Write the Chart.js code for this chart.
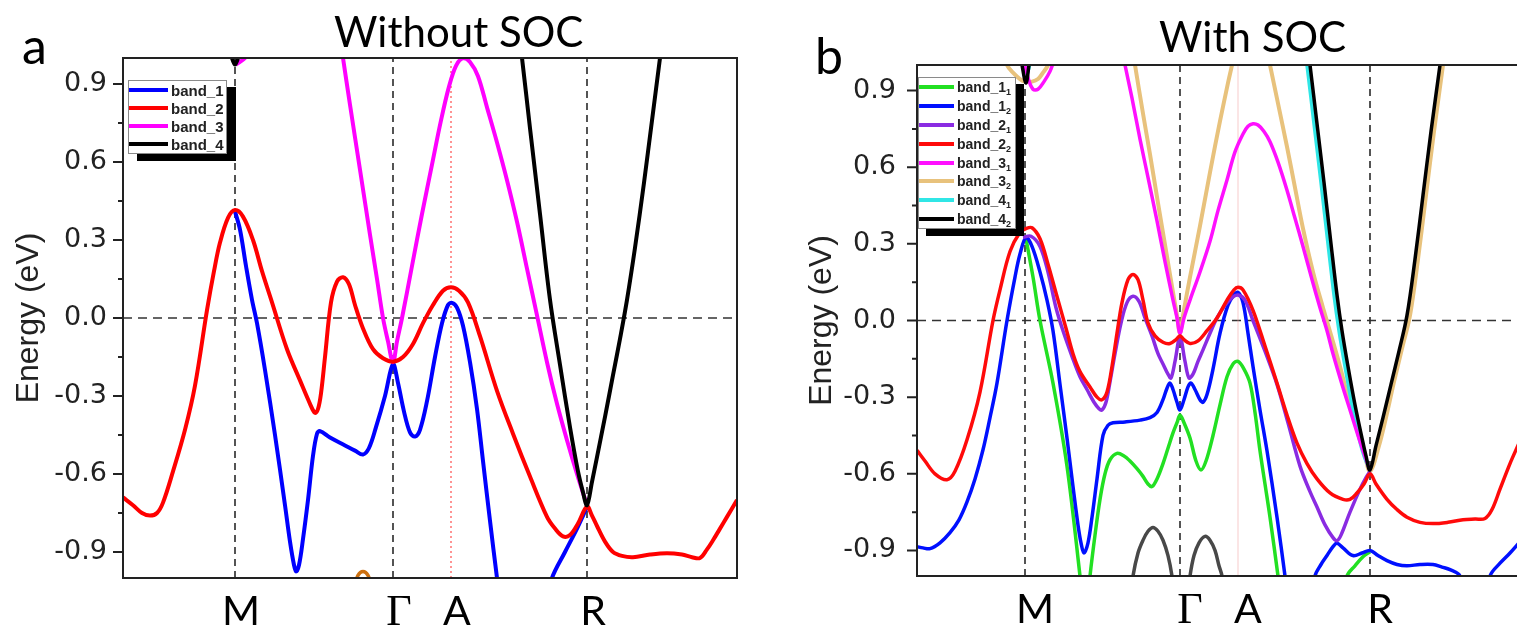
<!DOCTYPE html>
<html><head><meta charset="utf-8">
<script src="https://cdn.jsdelivr.net/npm/chart.js@4"></script>
<style>
html,body{margin:0;padding:0;background:#fff;width:1517px;height:630px;overflow:hidden;position:relative}
canvas{position:absolute;top:0}
#ca{left:0}
#cb{left:760px}
.txt{position:absolute;font-family:Lato,'Open Sans',sans-serif;color:#000;white-space:nowrap;line-height:1}
.legend{position:absolute;background:#fff;border:1px solid #8a8a8a;box-sizing:border-box;color:#222;font-family:'Liberation Sans',Arial,sans-serif;font-weight:bold}
.legend .row{display:flex;align-items:center;white-space:nowrap}
.legend .sw{display:inline-block;height:4px;flex:none}
.legend sub{font-size:9px;vertical-align:-3px;line-height:0}
</style></head><body>
<canvas id="ca" width="760" height="630"></canvas>
<canvas id="cb" width="780" height="630"></canvas>
<div class="txt" style="left:22px;top:20px;font-size:50px">a</div>
<div class="txt" style="left:815px;top:30px;font-size:50px">b</div>
<div class="txt" style="left:334px;top:10px;font-size:42px">Without SOC</div>
<div class="txt" style="left:1159px;top:15px;font-size:42px">With SOC</div>
<div class="legend" id="lega" style="left:128px;top:80px;width:99px;height:74px;box-shadow:9px 7px 0 0 #000;font-size:15px"></div>
<div class="legend" id="legb" style="left:918px;top:77px;width:98px;height:152px;box-shadow:8px 7px 0 0 #000;font-size:14px"></div>
<script>
// ---------- axis / label data ----------
const symLabels = ['M', 'Γ', 'A', 'R'];
const symA = [1.12, 2.70, 3.28, 4.64];
const symB = [1.08, 2.63, 3.21, 4.53];
const kMaxA = 6.14;
const kMaxB = 6.02;
const eMin = -1.0, eMax = 1.0;
const yMajor = [-0.9, -0.6, -0.3, 0.0, 0.3, 0.6, 0.9];
const yMinor = [-0.75, -0.45, -0.15, 0.15, 0.45, 0.75];

// ---------- panel a : without SOC  ([k, E(eV)]) ----------
const a_band1 = [[1.12,0.41],[1.17,0.34],[1.23,0.20],[1.29,0.07],[1.34,-0.02],[1.42,-0.20],[1.52,-0.45],[1.62,-0.72],[1.67,-0.86],[1.71,-0.95],[1.73,-0.975],[1.76,-0.95],[1.80,-0.85],[1.85,-0.70],[1.90,-0.53],[1.94,-0.445],[1.97,-0.435],[2.07,-0.46],[2.22,-0.49],[2.32,-0.51],[2.40,-0.525],[2.46,-0.50],[2.53,-0.42],[2.62,-0.30],[2.70,-0.178],[2.75,-0.25],[2.81,-0.36],[2.87,-0.44],[2.92,-0.456],[2.97,-0.43],[3.04,-0.32],[3.12,-0.15],[3.19,-0.02],[3.25,0.05],[3.29,0.058],[3.34,0.04],[3.40,-0.03],[3.47,-0.17],[3.54,-0.35],[3.60,-0.55],[3.67,-0.78],[3.74,-1.00],[3.78,-1.12],[3.95,null],[4.22,-1.12],[4.29,-1.00],[4.42,-0.90],[4.54,-0.81],[4.64,-0.727]];
const a_band2 = [[0.00,-0.69],[0.10,-0.72],[0.19,-0.75],[0.27,-0.76],[0.34,-0.75],[0.40,-0.71],[0.50,-0.59],[0.62,-0.43],[0.72,-0.26],[0.84,0.03],[0.91,0.18],[0.97,0.29],[1.05,0.385],[1.12,0.415],[1.20,0.39],[1.30,0.30],[1.39,0.18],[1.49,0.06],[1.64,-0.12],[1.77,-0.24],[1.87,-0.33],[1.92,-0.365],[1.95,-0.35],[1.98,-0.29],[2.02,-0.15],[2.08,0.06],[2.14,0.14],[2.20,0.157],[2.26,0.13],[2.32,0.05],[2.40,-0.04],[2.50,-0.12],[2.60,-0.155],[2.70,-0.168],[2.80,-0.15],[2.90,-0.10],[3.00,-0.02],[3.10,0.05],[3.20,0.105],[3.28,0.118],[3.36,0.105],[3.45,0.06],[3.57,-0.07],[3.74,-0.28],[3.90,-0.445],[4.07,-0.61],[4.24,-0.765],[4.32,-0.81],[4.40,-0.84],[4.47,-0.835],[4.55,-0.79],[4.64,-0.725],[4.69,-0.76],[4.74,-0.80],[4.82,-0.86],[4.90,-0.90],[4.99,-0.915],[5.10,-0.92],[5.27,-0.91],[5.44,-0.905],[5.59,-0.91],[5.69,-0.92],[5.77,-0.923],[5.84,-0.89],[5.90,-0.855],[5.97,-0.81],[6.04,-0.765],[6.14,-0.70]];
const a_band3 = [[1.13,0.975],[1.17,0.985],[1.22,1.00],[1.27,1.03],[1.80,null],[2.17,1.08],[2.20,1.00],[2.27,0.82],[2.37,0.57],[2.47,0.32],[2.54,0.15],[2.60,0.00],[2.65,-0.09],[2.70,-0.17],[2.74,-0.09],[2.79,0.00],[2.89,0.20],[2.99,0.40],[3.09,0.59],[3.18,0.76],[3.26,0.89],[3.33,0.97],[3.40,1.00],[3.47,0.985],[3.55,0.93],[3.64,0.81],[3.74,0.675],[3.84,0.53],[3.94,0.37],[4.04,0.19],[4.14,0.01],[4.24,-0.17],[4.34,-0.33],[4.44,-0.47],[4.54,-0.60],[4.64,-0.72]];
const a_band4 = [[1.06,1.05],[1.09,1.00],[1.12,0.975],[1.15,1.00],[1.18,1.05],[3.00,null],[3.95,1.12],[3.99,1.00],[4.07,0.73],[4.17,0.40],[4.27,0.07],[4.37,-0.18],[4.47,-0.42],[4.55,-0.59],[4.60,-0.67],[4.64,-0.72],[4.69,-0.63],[4.74,-0.535],[4.82,-0.38],[4.90,-0.22],[4.97,-0.08],[5.04,0.07],[5.12,0.27],[5.21,0.52],[5.29,0.76],[5.37,1.00],[5.41,1.12]];
const a_band0 = [[2.31,-1.04],[2.35,-0.99],[2.40,-0.975],[2.45,-0.99],[2.49,-1.04]];

// ---------- panel b : with SOC ----------
const b_band1_1 = [[1.09,0.32],[1.16,0.17],[1.23,0.00],[1.36,-0.245],[1.50,-0.57],[1.63,-1.00],[1.66,-1.12],[1.685,null],[1.70,-1.12],[1.73,-1.00],[1.78,-0.84],[1.83,-0.70],[1.88,-0.60],[1.93,-0.545],[2.00,-0.52],[2.07,-0.53],[2.13,-0.55],[2.20,-0.58],[2.26,-0.61],[2.31,-0.64],[2.35,-0.65],[2.40,-0.62],[2.46,-0.56],[2.51,-0.50],[2.56,-0.44],[2.60,-0.40],[2.63,-0.37],[2.67,-0.40],[2.73,-0.46],[2.79,-0.55],[2.84,-0.585],[2.89,-0.55],[2.96,-0.45],[3.03,-0.33],[3.10,-0.22],[3.16,-0.17],[3.21,-0.16],[3.27,-0.19],[3.33,-0.245],[3.38,-0.36],[3.43,-0.51],[3.48,-0.64],[3.53,-0.77],[3.61,-1.00],[3.65,-1.12],[4.00,null],[4.25,-1.12],[4.30,-1.00],[4.38,-0.96],[4.46,-0.925],[4.53,-0.905]];
const b_band1_2 = [[0.00,-0.885],[0.06,-0.89],[0.13,-0.893],[0.23,-0.87],[0.33,-0.83],[0.42,-0.78],[0.50,-0.71],[0.58,-0.62],[0.66,-0.506],[0.73,-0.38],[0.80,-0.245],[0.90,0.00],[0.98,0.17],[1.03,0.26],[1.09,0.325],[1.15,0.29],[1.23,0.19],[1.30,0.08],[1.36,-0.04],[1.43,-0.25],[1.50,-0.46],[1.56,-0.65],[1.61,-0.80],[1.64,-0.87],[1.67,-0.91],[1.71,-0.87],[1.75,-0.77],[1.80,-0.62],[1.86,-0.45],[1.91,-0.41],[1.96,-0.40],[2.08,-0.397],[2.23,-0.39],[2.33,-0.38],[2.40,-0.36],[2.46,-0.31],[2.50,-0.265],[2.53,-0.245],[2.56,-0.27],[2.60,-0.32],[2.63,-0.35],[2.67,-0.31],[2.71,-0.26],[2.74,-0.245],[2.78,-0.27],[2.83,-0.31],[2.86,-0.32],[2.90,-0.29],[2.96,-0.19],[3.03,-0.05],[3.11,0.06],[3.17,0.10],[3.21,0.11],[3.26,0.07],[3.31,-0.05],[3.36,-0.18],[3.43,-0.35],[3.50,-0.51],[3.60,-0.77],[3.68,-1.00],[3.72,-1.12],[3.85,null],[3.94,-1.12],[3.98,-1.00],[4.04,-0.955],[4.10,-0.92],[4.16,-0.885],[4.20,-0.872],[4.26,-0.89],[4.36,-0.92],[4.45,-0.91],[4.53,-0.90],[4.61,-0.92],[4.70,-0.94],[4.80,-0.955],[4.90,-0.96],[5.03,-0.955],[5.16,-0.955],[5.25,-0.965],[5.33,-0.975],[5.43,-1.00],[5.47,-1.12],[5.60,null],[5.69,-1.12],[5.73,-1.00],[5.83,-0.95],[5.93,-0.91],[6.02,-0.87]];
const b_band2_1 = [[1.06,0.325],[1.14,0.33],[1.23,0.29],[1.31,0.19],[1.39,0.05],[1.46,-0.04],[1.55,-0.14],[1.63,-0.22],[1.70,-0.27],[1.77,-0.32],[1.82,-0.345],[1.85,-0.35],[1.89,-0.32],[1.93,-0.24],[1.98,-0.13],[2.04,-0.01],[2.10,0.07],[2.16,0.095],[2.22,0.075],[2.28,0.01],[2.35,-0.06],[2.41,-0.13],[2.46,-0.17],[2.51,-0.21],[2.54,-0.225],[2.58,-0.16],[2.63,-0.065],[2.68,-0.16],[2.72,-0.225],[2.76,-0.21],[2.81,-0.16],[2.86,-0.115],[2.93,-0.05],[3.00,0.01],[3.08,0.06],[3.15,0.09],[3.21,0.10],[3.28,0.08],[3.36,0.00],[3.48,-0.12],[3.60,-0.25],[3.71,-0.40],[3.83,-0.57],[3.93,-0.67],[4.00,-0.73],[4.08,-0.80],[4.16,-0.85],[4.20,-0.862],[4.24,-0.84],[4.33,-0.75],[4.43,-0.66],[4.49,-0.615],[4.53,-0.59]];
const b_band2_2 = [[0.00,-0.508],[0.08,-0.55],[0.18,-0.60],[0.30,-0.623],[0.38,-0.59],[0.50,-0.467],[0.63,-0.28],[0.76,0.00],[0.83,0.12],[0.93,0.27],[1.03,0.345],[1.09,0.36],[1.15,0.363],[1.23,0.32],[1.31,0.22],[1.41,0.08],[1.49,-0.03],[1.56,-0.13],[1.63,-0.20],[1.73,-0.26],[1.80,-0.30],[1.85,-0.31],[1.90,-0.28],[1.95,-0.18],[2.00,-0.05],[2.05,0.07],[2.11,0.16],[2.16,0.18],[2.21,0.16],[2.26,0.08],[2.31,-0.01],[2.38,-0.06],[2.46,-0.085],[2.53,-0.09],[2.59,-0.075],[2.63,-0.06],[2.67,-0.075],[2.73,-0.09],[2.81,-0.08],[2.90,-0.04],[3.00,0.01],[3.10,0.08],[3.17,0.12],[3.21,0.13],[3.26,0.12],[3.36,0.04],[3.48,-0.10],[3.60,-0.245],[3.70,-0.37],[3.80,-0.48],[3.90,-0.56],[4.00,-0.62],[4.13,-0.675],[4.26,-0.70],[4.33,-0.70],[4.40,-0.675],[4.47,-0.64],[4.53,-0.60],[4.59,-0.64],[4.70,-0.70],[4.80,-0.74],[4.90,-0.77],[5.03,-0.79],[5.16,-0.795],[5.31,-0.79],[5.46,-0.78],[5.58,-0.777],[5.68,-0.775],[5.75,-0.74],[5.83,-0.66],[5.93,-0.56],[6.02,-0.48]];
const b_band3_1 = [[1.07,1.03],[1.11,0.95],[1.16,0.905],[1.21,0.905],[1.27,0.935],[1.33,0.975],[1.38,1.03],[1.80,null],[2.05,1.06],[2.08,1.00],[2.15,0.87],[2.23,0.71],[2.31,0.56],[2.40,0.39],[2.48,0.23],[2.56,0.08],[2.60,0.01],[2.63,-0.05],[2.67,0.01],[2.73,0.08],[2.83,0.19],[2.93,0.31],[3.01,0.43],[3.10,0.55],[3.18,0.66],[3.26,0.73],[3.31,0.76],[3.36,0.77],[3.41,0.765],[3.47,0.74],[3.53,0.70],[3.61,0.62],[3.70,0.51],[3.78,0.40],[3.86,0.29],[3.95,0.16],[4.03,0.05],[4.10,-0.04],[4.16,-0.13],[4.25,-0.25],[4.33,-0.35],[4.41,-0.45],[4.47,-0.52],[4.53,-0.59]];
const b_band3_2 = [[0.86,1.06],[0.90,1.00],[0.96,0.97],[1.03,0.945],[1.08,0.935],[1.15,0.935],[1.21,0.945],[1.26,0.97],[1.31,1.00],[1.35,1.06],[1.80,null],[2.15,1.08],[2.18,1.00],[2.26,0.81],[2.33,0.65],[2.41,0.46],[2.50,0.25],[2.56,0.11],[2.60,0.02],[2.63,-0.05],[2.66,0.02],[2.73,0.17],[2.83,0.37],[2.93,0.58],[3.03,0.78],[3.11,0.93],[3.15,1.00],[3.19,1.08],[3.30,null],[3.49,1.08],[3.53,1.00],[3.61,0.85],[3.70,0.68],[3.78,0.52],[3.86,0.36],[3.96,0.19],[4.06,0.05],[4.15,-0.07],[4.23,-0.18],[4.31,-0.30],[4.40,-0.42],[4.47,-0.51],[4.53,-0.59],[4.62,-0.49],[4.69,-0.38],[4.77,-0.24],[4.85,-0.11],[4.93,0.02],[5.01,0.24],[5.09,0.49],[5.17,0.74],[5.26,1.00],[5.30,1.12]];
const b_band4_1 = [[1.09,0.95],[1.12,0.99],[1.15,1.05],[2.00,null],[3.86,1.12],[3.90,1.00],[3.97,0.77],[4.04,0.54],[4.11,0.30],[4.17,0.10],[4.22,-0.04],[4.28,-0.18],[4.35,-0.33],[4.42,-0.46],[4.47,-0.53],[4.53,-0.585]];
const b_band4_2 = [[1.03,1.05],[1.05,1.00],[1.09,0.93],[1.12,1.00],[1.14,1.05],[2.00,null],[3.89,1.12],[3.93,1.00],[4.00,0.77],[4.07,0.54],[4.14,0.30],[4.20,0.10],[4.25,-0.04],[4.31,-0.18],[4.38,-0.33],[4.45,-0.46],[4.49,-0.53],[4.53,-0.585],[4.59,-0.49],[4.66,-0.38],[4.74,-0.25],[4.82,-0.12],[4.90,0.02],[4.98,0.24],[5.06,0.49],[5.14,0.74],[5.23,1.00],[5.27,1.12]];
const b_band0 = [[2.13,-1.10],[2.16,-1.00],[2.21,-0.91],[2.26,-0.86],[2.31,-0.825],[2.36,-0.81],[2.41,-0.825],[2.46,-0.86],[2.51,-0.92],[2.55,-1.00],[2.58,-1.10],[2.62,null],[2.70,-1.10],[2.73,-1.00],[2.77,-0.92],[2.82,-0.87],[2.88,-0.845],[2.93,-0.86],[2.98,-0.90],[3.02,-0.96],[3.05,-1.00],[3.08,-1.10]];

// ---------- helpers ----------
function toXY(arr){ return arr.map(p => ({x: p[0], y: p[1]})); }
function band(label, arr, color, width, order, inLegend){
  return {label, data: toXY(arr), borderColor: color, backgroundColor: color, borderWidth: width,
    pointRadius: 0, pointHoverRadius: 0, tension: 0.35, fill: false, order, clip: 0, inLegend};
}
function refLine(points, color, width, dash){
  return {label: '', data: points, borderColor: color, borderWidth: width, borderDash: dash,
    pointRadius: 0, tension: 0, fill: false, order: 100, inLegend: false};
}
function refLines(sym, kMax, aStyle){
  const out = [];
  sym.forEach((k, i) => {
    const pts = [{x: k, y: eMin}, {x: k, y: eMax}];
    if (symLabels[i] === 'A') out.push(refLine(pts, aStyle.color, aStyle.width, aStyle.dash));
    else out.push(refLine(pts, '#2a2a2a', 1.6, [7, 5]));
  });
  out.push(refLine([{x: 0, y: 0}, {x: kMax, y: 0}], '#333', 1.6, [9, 6]));
  return out;
}

const framePlugin = {
  id: 'frameTicks',
  afterDatasetsDraw(chart, args, o){
    const {ctx, chartArea: {left, right, top, bottom}} = chart;
    const ys = chart.scales.y;
    ctx.save();
    ctx.strokeStyle = '#222';
    ctx.lineWidth = 2;
    ctx.strokeRect(left, top, right - left, bottom - top);
    ctx.beginPath();
    yMajor.forEach(v => { const p = ys.getPixelForValue(v); ctx.moveTo(left, p); ctx.lineTo(left - o.major, p); });
    yMinor.forEach(v => { const p = ys.getPixelForValue(v); ctx.moveTo(left, p); ctx.lineTo(left - o.minor, p); });
    ctx.stroke();
    ctx.restore();
  }
};

function makeChart(id, datasets, sym, kMax, g){
  return new Chart(document.getElementById(id), {
    type: 'line',
    data: {datasets},
    plugins: [framePlugin],
    options: {
      responsive: false, animation: false, devicePixelRatio: 1, events: [],
      layout: {padding: {left: 0, top: g.top, right: g.right, bottom: 0}},
      plugins: {legend: {display: false}, tooltip: {enabled: false}, frameTicks: {major: 10, minor: 5}},
      scales: {
        x: {type: 'linear', min: 0, max: kMax,
          afterFit: s => { s.height = g.xh; },
          afterBuildTicks: s => { s.ticks = sym.map(v => ({value: v})); },
          grid: {display: false, drawTicks: false}, border: {display: false},
          ticks: {autoSkip: false, maxRotation: 0, padding: g.xpad, labelOffset: g.lo, color: '#000',
            callback: (v, i) => symLabels[i],
            font: c => symLabels[c.index] === 'Γ' ? {family: "'Liberation Serif', serif", size: 44} : {family: "Lato, 'Open Sans', sans-serif", size: 41}}
        },
        y: {type: 'linear', min: eMin, max: eMax,
          afterFit: s => { s.width = g.yw; },
          afterBuildTicks: s => { s.ticks = yMajor.map(v => ({value: v})); },
          grid: {display: false, drawTicks: false}, border: {display: false},
          ticks: {padding: g.ypad, color: '#222', font: {family: "'DejaVu Sans', sans-serif", size: 27},
            callback: v => v.toFixed(1)},
          title: {display: true, text: 'Energy (eV)', color: '#222', font: {family: "'Liberation Sans', Arial, sans-serif", size: 32},
            padding: {top: g.tpad, bottom: 0}}
        }
      }
    }
  });
}

function buildLegend(el, chart, swW, rowH){
  chart.data.datasets.filter(d => d.inLegend).forEach(d => {
    const row = document.createElement('div');
    row.className = 'row';
    row.style.height = rowH + 'px';
    const sw = document.createElement('span');
    sw.className = 'sw';
    sw.style.width = swW + 'px';
    sw.style.background = d.borderColor;
    sw.style.marginRight = '3px';
    const t = document.createElement('span');
    const m = d.label.match(/^(.*)_(\d)_(\d)$/);
    if (m) { t.textContent = m[1] + '_' + m[2]; const s = document.createElement('sub'); s.textContent = m[3]; t.appendChild(s); }
    else t.textContent = d.label;
    row.appendChild(sw); row.appendChild(t);
    el.appendChild(row);
  });
}

// ---------- panel a ----------
const dsA = [
  band('band_1', a_band1, '#0000ff', 4, 4, true),
  band('band_2', a_band2, '#ff0000', 4, 2, true),
  band('band_3', a_band3, '#ff00ff', 4, 3, true),
  band('band_4', a_band4, '#000000', 4, 1, true),
  band('', a_band0, '#cc7010', 3.5, 5, false),
  ...refLines(symA, kMaxA, {color: '#ff5a5a', width: 1.3, dash: [2, 3]})
];
const chartA = makeChart('ca', dsA, symA, kMaxA, {top: 58, right: 23, xh: 52, yw: 123, ypad: 16, tpad: 10, xpad: 9, lo: 6});
buildLegend(document.getElementById('lega'), chartA, 39, 18);

// ---------- panel b ----------
const dsB = [
  band('band_1_1', b_band1_1, '#22e022', 3.5, 5, true),
  band('band_1_2', b_band1_2, '#0010ff', 3.5, 4, true),
  band('band_2_1', b_band2_1, '#8a2be2', 3.5, 3, true),
  band('band_2_2', b_band2_2, '#ff0a0a', 3.5, 2, true),
  band('band_3_1', b_band3_1, '#ff10ff', 3.5, 6, true),
  band('band_3_2', b_band3_2, '#e8c27c', 4, 8, true),
  band('band_4_1', b_band4_1, '#30e6e6', 3.5, 7, true),
  band('band_4_2', b_band4_2, '#000000', 3.5, 1, true),
  band('', b_band0, '#484848', 3.5, 9, false),
  ...refLines(symB, kMaxB, {color: 'rgba(240,160,160,0.55)', width: 1, dash: []})
];
const chartB = makeChart('cb', dsB, symB, kMaxB, {top: 65, right: 21, xh: 54, yw: 157, ypad: 21, tpad: 43, xpad: 9, lo: 10});
buildLegend(document.getElementById('legb'), chartB, 35, 18.8);
</script>
</body></html>
